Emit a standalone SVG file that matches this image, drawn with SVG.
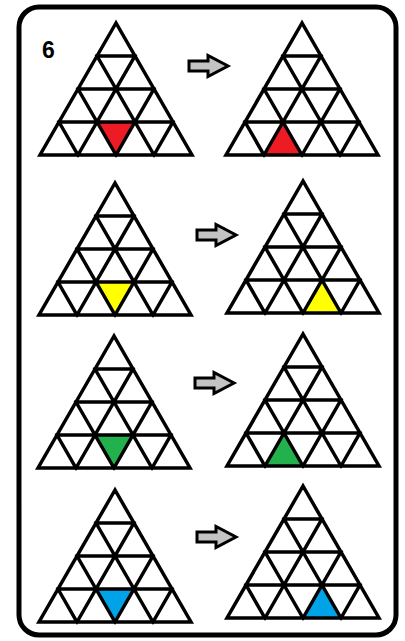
<svg xmlns="http://www.w3.org/2000/svg" xmlns:xlink="http://www.w3.org/1999/xlink" width="405" height="641" viewBox="0 0 405 641">
<style>
.grid{fill:none;stroke:#000;stroke-width:3.5;stroke-linejoin:miter;stroke-linecap:square}
.arrow{fill:#c3c3c3;stroke:#000;stroke-width:3;stroke-linejoin:miter}
.frame{fill:#fff;stroke:#000;stroke-width:5}
.num{font-family:"Liberation Sans",Arial,sans-serif;font-weight:bold;font-size:23px;fill:#000}
</style>
<defs>
<g id="tri">
<path class="grid" d="M0,0 L-76,132 L76,132 Z M-19,33 H19 M-38,66 H38 M-57,99 H57 M19,33 L-38,132 M38,66 L0,132 M57,99 L38,132 M-19,33 L38,132 M-38,66 L0,132 M-57,99 L-38,132"/>
</g>
<path id="arr" class="arrow" d="M0,-5 H19 V-10.5 L39,0 L19,10.5 V5 H0 Z"/>
</defs>
<rect class="frame" x="19" y="7" width="377" height="628" rx="20" ry="20"/>
<text class="num" x="42" y="58">6</text>
<g id="row1-before" transform="translate(116,23)">
<polygon points="-19,99 19,99 0,132" fill="#ed1c24"/>
<use xlink:href="#tri"/>
</g>
<g id="row1-after" transform="translate(302,23)">
<polygon points="-38,132 0,132 -19,99" fill="#ed1c24"/>
<use xlink:href="#tri"/>
</g>
<g id="row2-before" transform="translate(115,183)">
<polygon points="-19,99 19,99 0,132" fill="#ffff00"/>
<use xlink:href="#tri"/>
</g>
<g id="row2-after" transform="translate(303,181)">
<polygon points="0,132 38,132 19,99" fill="#ffff00"/>
<use xlink:href="#tri"/>
</g>
<g id="row3-before" transform="translate(114,336)">
<polygon points="-19,99 19,99 0,132" fill="#22b14c"/>
<use xlink:href="#tri"/>
</g>
<g id="row3-after" transform="translate(303,334)">
<polygon points="-38,132 0,132 -19,99" fill="#22b14c"/>
<use xlink:href="#tri"/>
</g>
<g id="row4-before" transform="translate(115,490)">
<polygon points="-19,99 19,99 0,132" fill="#00a2e8"/>
<use xlink:href="#tri"/>
</g>
<g id="row4-after" transform="translate(303,486)">
<polygon points="0,132 38,132 19,99" fill="#00a2e8"/>
<use xlink:href="#tri"/>
</g>
<g id="connectors">
<use xlink:href="#arr" transform="translate(189,66)"/>
<use xlink:href="#arr" transform="translate(197,235)"/>
<use xlink:href="#arr" transform="translate(195,383)"/>
<use xlink:href="#arr" transform="translate(197,537)"/>
</g>
</svg>
